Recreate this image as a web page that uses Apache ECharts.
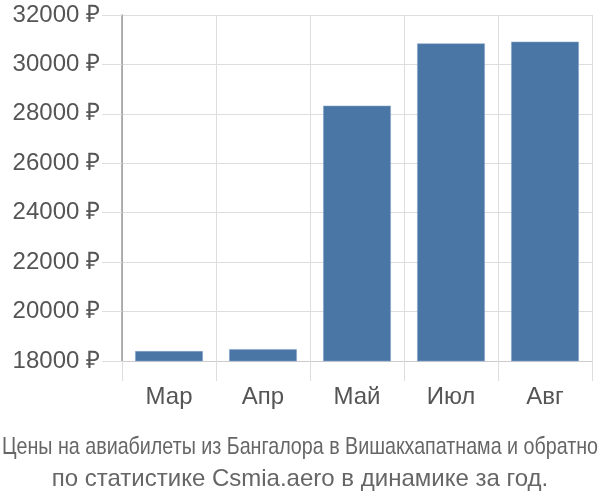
<!DOCTYPE html>
<html><head><meta charset="utf-8">
<script src="https://cdn.jsdelivr.net/npm/echarts@6/dist/echarts.min.js"></script>
<style>html,body{margin:0;padding:0;background:#fff}#c{width:600px;height:500px}</style>
</head><body><div id="c"></div>
<script>
const categories = ['Мар', 'Апр', 'Май', 'Июл', 'Авг'];
const prices = [18400, 18480, 28330, 30850, 30920];
const yTicks = [18000, 20000, 22000, 24000, 26000, 28000, 30000, 32000];
const titleLines = ['Цены на авиабилеты из Бангалора в Вишакхапатнама и обратно', 'по статистике Csmia.aero в динамике за год.'];

const chart = echarts.init(document.getElementById('c'));
chart.setOption({
  animation: false,
  title: [
    { text: titleLines[1], left: 'center', top: 462, textStyle: { fontFamily: 'Liberation Sans', fontWeight: 'normal', fontSize: 24, color: '#666' } }
  ],
  graphic: [{
    type: 'text', x: 300, y: 447, scaleX: 0.82, silent: true,
    style: { text: titleLines[0], x: 0, y: 0, align: 'center', verticalAlign: 'middle', fontFamily: 'Liberation Sans', fontSize: 24, fill: '#666' }
  }],
  grid: { left: 122, right: 8, top: 15, bottom: 139 },
  xAxis: {
    type: 'category', data: categories,
    axisLine: { show: true, lineStyle: { color: '#ccc', width: 1 } },
    axisTick: { show: true, length: 20, lineStyle: { color: '#ddd' } },
    splitLine: { show: true, lineStyle: { color: '#ddd' } },
    axisLabel: { margin: 24, fontSize: 24, color: '#555', fontFamily: 'Liberation Sans' }
  },
  yAxis: {
    type: 'value', min: yTicks[0], max: yTicks[yTicks.length - 1], interval: 2000,
    axisLine: { show: true, lineStyle: { color: '#999', width: 1.5 } },
    axisTick: { show: true, length: 20, lineStyle: { color: '#ddd' } },
    splitLine: { show: true, lineStyle: { color: '#ddd' } },
    axisLabel: { margin: 22, fontSize: 24, color: '#555', fontFamily: 'Liberation Sans', formatter: v => v + ' ₽' }
  },
  series: [{
    type: 'bar', data: prices, barCategoryGap: '28%',
    itemStyle: { color: '#4a76a6', borderColor: '#8aa6c8', borderWidth: 0.5 }
  }]
});
</script></body></html>
